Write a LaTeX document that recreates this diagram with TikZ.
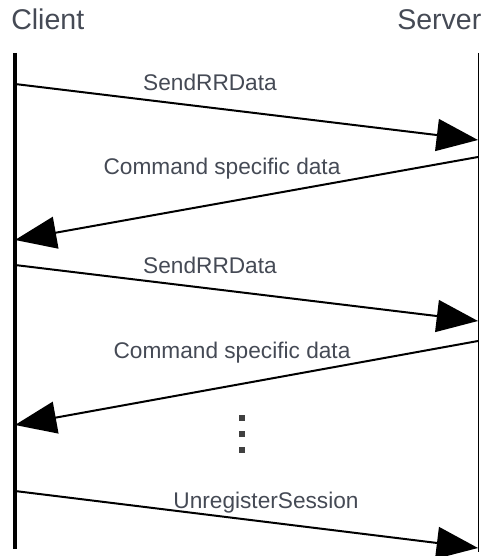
\documentclass[tikz,border=0pt]{standalone}
\usepackage{fontspec}
\setmainfont{Liberation Sans}
\usetikzlibrary{arrows.meta}
\definecolor{labelgray}{HTML}{454A55}
\tikzset{
  lifetitle/.style={font=\fontsize{21.4pt}{24pt}\selectfont, text=labelgray, inner sep=0pt, anchor=base west},
  msglabel/.style={font=\fontsize{17pt}{20pt}\selectfont, text=labelgray, inner sep=0pt, anchor=base},
  msg/.style={line width=1.5pt, -{Triangle[length=31pt, width=24pt]}},
  dotmark/.style={fill=black!75, minimum size=4.5pt, inner sep=0pt}
}
\begin{document}
\begin{tikzpicture}[x=0.75pt, y=-0.75pt]
  \useasboundingbox (0,0) rectangle (480,556);
  % lifeline titles
  \node[lifetitle] (client) at (11,30) {Client};
  \node[lifetitle] (server) at (397,30) {Server};
  % lifelines
  \coordinate (ctop) at (15,53);
  \coordinate (cbot) at (15,549);
  \coordinate (stop) at (478.5,53);
  \coordinate (sbot) at (478.5,552);
  \draw[line width=3.6pt] (ctop) -- (cbot);
  \draw[line width=1.1pt] (stop) -- (sbot);
  % message end points
  \coordinate (c1) at (15,84);
  \coordinate (s1) at (478,140);
  \coordinate (s2) at (478,157);
  \coordinate (c2) at (15,240);
  \coordinate (c3) at (15,265);
  \coordinate (s3) at (478,321);
  \coordinate (s4) at (478,341);
  \coordinate (c4) at (15,425);
  \coordinate (c5) at (15,491);
  \coordinate (s5) at (478,548);
  % messages
  \begin{scope}[msg]
    \draw (c1) to (s1);
    \draw (s2) to (c2);
    \draw (c3) to (s3);
    \draw (s4) to (c4);
    \draw (c5) to (s5);
  \end{scope}
  % labels
  \node[msglabel] (m1) at (210,91) {SendRRData};
  \node[msglabel] (m2) at (222,174) {Command specific data};
  \node[msglabel] (m3) at (210,273) {SendRRData};
  \node[msglabel] (m4) at (232,358) {Command specific data};
  \node[msglabel] (m5) at (266,508) {UnregisterSession};
  % ellipsis
  \node[dotmark] (d1) at (242,418) {};
  \node[dotmark] (d2) at (242,434) {};
  \node[dotmark] (d3) at (242,450) {};
\end{tikzpicture}
\end{document}
